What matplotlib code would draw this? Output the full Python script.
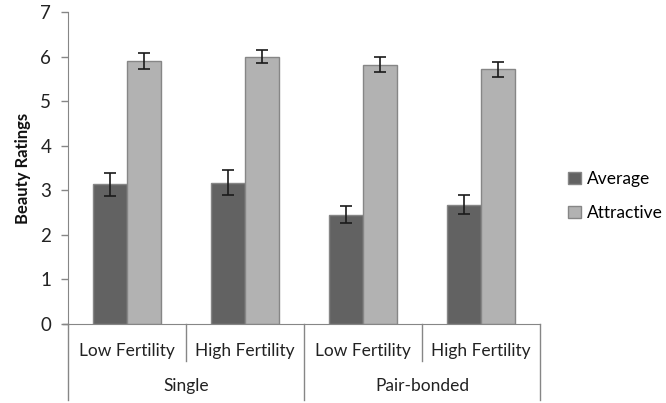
import numpy as np
import matplotlib
matplotlib.use("Agg")
import matplotlib.pyplot as plt

plt.rcParams['font.family'] = ['Lato', 'DejaVu Sans']

conditions = ["Low Fertility", "High Fertility", "Low Fertility", "High Fertility"]
groups = ["Single", "Pair-bonded"]
average = [3.13, 3.17, 2.45, 2.68]
average_err = [0.25, 0.28, 0.19, 0.22]
attractive = [5.90, 6.00, 5.82, 5.71]
attractive_err = [0.18, 0.15, 0.17, 0.17]

fig = plt.figure(figsize=(6.66, 4.03), dpi=100)
ax = fig.add_axes([68/666, 1-324/403, (540-68)/666, (324-12)/403])

x = np.arange(len(conditions))
w = 0.29
grey = "#868686"
ax.bar(x - w/2, average, w, color="#626262", edgecolor=grey, linewidth=1, label="Average", zorder=2)
ax.bar(x + w/2, attractive, w, color="#b2b2b2", edgecolor=grey, linewidth=1, label="Attractive", zorder=2)
ax.errorbar(x - w/2, average, yerr=average_err, fmt="none", ecolor="#1a1a1a", elinewidth=1.2, capsize=4, capthick=1.2, zorder=3)
ax.errorbar(x + w/2, attractive, yerr=attractive_err, fmt="none", ecolor="#1a1a1a", elinewidth=1.2, capsize=4, capthick=1.2, zorder=3)

ax.set_xlim(-0.5, len(conditions) - 0.5)
ax.set_ylim(0, 7)
ax.set_yticks(range(8))
ax.set_xticks([])
for s in ["top", "right"]:
    ax.spines[s].set_visible(False)
ax.spines["left"].set_color(grey)
ax.spines["bottom"].set_color(grey)
ax.tick_params(axis="y", colors=grey, length=5, width=1, labelsize=13.5, labelcolor="#222222", pad=7)
ax.set_ylabel("Beauty Ratings", fontsize=12, fontweight="bold", color="#111111", labelpad=7)

# two-level category axis below the plot
trans = ax.get_xaxis_transform()
ax.plot([-0.5 - 0.04, -0.5], [0, 0], color=grey, lw=1, transform=trans, clip_on=False)
for i in range(len(conditions) + 1):
    b = i - 0.5
    depth = -0.245 if i in (0, 2, 4) else -0.12
    ax.plot([b, b], [0, depth], color=grey, lw=1, transform=trans, clip_on=False)
for i, c in enumerate(conditions):
    ax.text(i, -0.085, c, transform=trans, ha="center", va="center", fontsize=12.5, color="#222222")
for j, g in enumerate(groups):
    ax.text(2*j + 0.5, -0.2, g, transform=trans, ha="center", va="center", fontsize=12.5, color="#222222")

ax.legend(loc="center left", bbox_to_anchor=(1.06, 0.41), frameon=False, fontsize=12.5,
          borderpad=0, borderaxespad=0,
          handlelength=0.75, handleheight=0.75, handletextpad=0.35, labelspacing=1.05)

fig.savefig("out.png", dpi=100)
